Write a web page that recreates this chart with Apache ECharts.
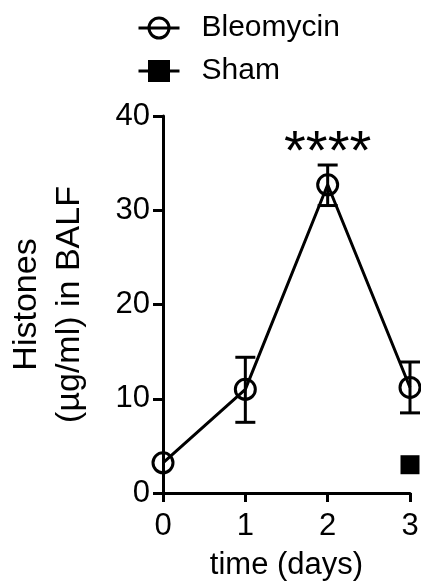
<!DOCTYPE html>
<html>
<head>
<meta charset="utf-8">
<script src="https://cdn.jsdelivr.net/npm/echarts@6/dist/echarts.min.js"></script>
<style>
html, body { margin: 0; padding: 0; background: #fff; }
#chart { width: 421px; height: 583px; }
</style>
</head>
<body>
<div id="chart"></div>
<script>
// ---- data ----
const days = [0, 1, 2, 3];
const bleoMean = [3.2, 11.0, 32.7, 11.2];
const bleoLow  = [3.2, 7.5, 30.5, 8.5];
const bleoHigh = [3.2, 14.4, 34.8, 13.9];
const shamDays = [3];
const shamMean = [3.0];
const yTicks = [0, 10, 20, 30, 40];
const xTicks = [0, 1, 2, 3];
const sigDays = [2];
const sigY = [36.0];
const sigText = ['****'];

const FONT = 'Arial, "Liberation Sans", sans-serif';

const chart = echarts.init(document.getElementById('chart'), null, { renderer: 'canvas' });

const bleoData = days.map((d, i) => [d, bleoMean[i]]);
const shamData = shamDays.map((d, i) => [d, shamMean[i]]);
const errData = days.map((d, i) => [d, bleoLow[i], bleoHigh[i]]);
const sigData = sigDays.map((d, i) => [d, sigY[i], sigText[i]]);

const option = {
  animation: false,
  backgroundColor: '#fff',
  legend: {
    orient: 'vertical',
    left: 137,
    top: 13,
    padding: 0,
    itemWidth: 41,
    itemHeight: 25,
    itemGap: 13,
    lineStyle: { color: '#000', width: 3 },
    textStyle: { fontFamily: FONT, fontSize: 30, color: '#000', padding: [0, 0, 0, 17] },
    data: [
      { name: 'Bleomycin', itemStyle: { color: 'rgba(0,0,0,0)', borderColor: '#000', borderWidth: 3 } },
      { name: 'Sham', itemStyle: { color: '#000', borderColor: '#000', borderWidth: 2 } }
    ]
  },
  grid: { left: 163, right: 11, top: 116, bottom: 90, containLabel: false, outerBoundsMode: 'none' },
  xAxis: {
    type: 'value',
    min: 0, max: 3, interval: 1,
    name: 'time (days)',
    nameLocation: 'middle',
    nameGap: 57,
    nameTextStyle: { fontFamily: FONT, fontSize: 31, color: '#000' },
    axisLine: { show: true, onZero: false, lineStyle: { color: '#000', width: 3 } },
    axisTick: { show: true, inside: false, length: 9, lineStyle: { color: '#000', width: 3 } },
    axisLabel: { fontFamily: FONT, fontSize: 31, color: '#000', margin: 18,
      formatter: v => xTicks.includes(v) ? String(v) : '' },
    splitLine: { show: false }
  },
  yAxis: {
    type: 'value',
    min: 0, max: 40, interval: 10,
    name: 'Histones\n(µg/ml) in BALF',
    nameLocation: 'middle',
    nameRotate: 90,
    nameGap: 72,
    nameTextStyle: { fontFamily: FONT, fontSize: 34, color: '#000', lineHeight: 43, align: 'center' },
    axisLine: { show: true, onZero: false, lineStyle: { color: '#000', width: 3 } },
    axisTick: { show: true, inside: false, length: 10, lineStyle: { color: '#000', width: 3 } },
    axisLabel: { fontFamily: FONT, fontSize: 31, color: '#000', margin: 13,
      formatter: v => yTicks.includes(v) ? String(v) : '' },
    splitLine: { show: false }
  },
  series: [
    {
      name: 'Bleomycin',
      type: 'line',
      data: bleoData,
      symbol: 'circle',
      symbolSize: 20,
      z: 3,
      lineStyle: { color: '#000', width: 3 },
      itemStyle: { color: 'rgba(0,0,0,0)', borderColor: '#000', borderWidth: 3 }
    },
    {
      name: 'Sham',
      type: 'line',
      data: shamData,
      symbol: 'rect',
      symbolSize: 19,
      z: 3,
      lineStyle: { color: '#000', width: 3 },
      itemStyle: { color: '#000' }
    },
    {
      name: 'err',
      type: 'custom',
      data: errData,
      z: 2,
      clip: false,
      renderItem: function (params, api) {
        const x = api.value(0);
        const lo = api.coord([x, api.value(1)]);
        const hi = api.coord([x, api.value(2)]);
        const half = 10;
        const style = { stroke: '#000', lineWidth: 3 };
        if (Math.abs(lo[1] - hi[1]) < 1) return { type: 'group', children: [] };
        return {
          type: 'group',
          children: [
            { type: 'line', shape: { x1: lo[0], y1: lo[1], x2: hi[0], y2: hi[1] }, style },
            { type: 'line', shape: { x1: hi[0] - half, y1: hi[1], x2: hi[0] + half, y2: hi[1] }, style },
            { type: 'line', shape: { x1: lo[0] - half, y1: lo[1], x2: lo[0] + half, y2: lo[1] }, style }
          ]
        };
      }
    },
    {
      name: 'sig',
      type: 'custom',
      data: sigData,
      z: 4,
      clip: false,
      renderItem: function (params, api) {
        const p = api.coord([api.value(0), api.value(1)]);
        return {
          type: 'text',
          x: p[0], y: p[1],
          style: { text: sigText[params.dataIndex], fontFamily: FONT, fontSize: 56,
            fill: '#000', align: 'center', verticalAlign: 'middle' }
        };
      }
    }
  ]
};

chart.setOption(option);
</script>
</body>
</html>
